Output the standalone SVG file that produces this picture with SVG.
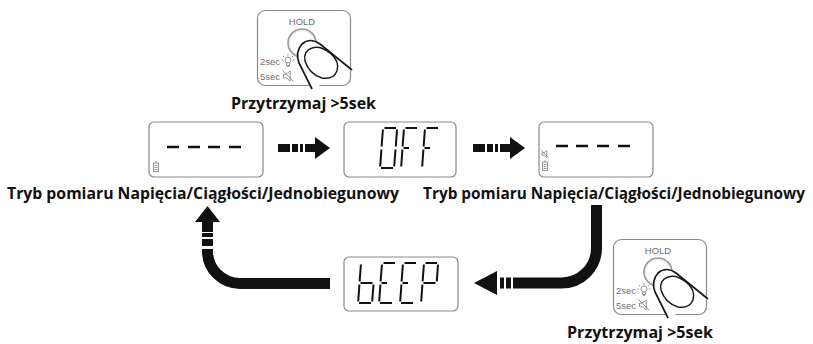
<svg xmlns="http://www.w3.org/2000/svg" width="813" height="344" viewBox="0 0 813 344">
  <defs>
    <style>
      .lcd { fill: #ffffff; stroke: #8a8a8a; stroke-width: 1.2; }
      .seg { fill: none; stroke: #111111; stroke-width: 2; stroke-linecap: butt; }
      .dash { stroke: #111111; stroke-width: 2.4; }
      .tiny { fill: none; stroke: #8a8a8a; stroke-width: 0.9; }
      .lbl { font-family: "Open Sans", "Liberation Sans", sans-serif; font-weight: bold; font-size: 16px; fill: #111111; }
      .cap { font-size: 15.4px; }
      .hold-frame { fill: #ffffff; stroke: #8a8a8a; stroke-width: 1.2; }
      .hold-txt { font-family: "Liberation Sans", Arial, sans-serif; font-size: 9.5px; fill: #6f6f6f; }
      .finger { fill: #ffffff; stroke: #1a1a1a; stroke-width: 1.7; }
      .conn { fill: none; stroke: #111111; stroke-width: 11; }
      .solid { fill: #111111; }
    </style>

    <!-- HOLD button with a finger pressing it -->
    <g id="holdIcon">
      <rect class="hold-frame" x="0.5" y="0.5" width="93" height="75" rx="8"/>
      <text class="hold-txt" x="45" y="15" text-anchor="middle">HOLD</text>
      <circle cx="45" cy="33" r="14" fill="#ffffff" stroke="#9a9a9a" stroke-width="1.6"/>
      <circle cx="45" cy="33" r="12.6" fill="none" stroke="#dddddd" stroke-width="0.8"/>
      <text class="hold-txt" x="3" y="55" font-size="9">2sec</text>
      <text class="hold-txt" x="3" y="70" font-size="9">5sec</text>
      <!-- bulb -->
      <g class="tiny" transform="translate(31,51)">
        <circle cx="0" cy="-1" r="3"/>
        <path d="M-1.5 1.8 V4.5 H1.5 V1.8 M-1.3 5.6 H1.3"/>
        <path d="M0 -7 V-5.3 M-5 -5 L-3.8 -3.8 M5 -5 L3.8 -3.8 M-6.5 -1 H-4.8 M6.5 -1 H4.8"/>
      </g>
      <!-- muted speaker -->
      <g class="tiny" transform="translate(31,66)">
        <path d="M-4.5 -1.8 H-1.8 L2.2 -5 V5 L-1.8 1.8 H-4.5 Z"/>
        <path d="M-5.5 -5.5 L5.5 5.5"/>
      </g>
      <path class="finger" d="M 95 60 L 63 34 Q 53 27 45 34 Q 38 42 42 53 L 55 79"/>
      <path fill="none" stroke="#1a1a1a" stroke-width="1.5" d="M 48 51 Q 46 41 55 38 Q 63 35 73 43 Q 83 51 80 61 Q 76 70 65 68 Q 52 64 48 51 Z"/>
    </g>

    <!-- LCD icons -->
    <g id="battery" class="tiny">
      <rect x="-2.5" y="-4" width="5" height="8.5"/>
      <path d="M-1 -5 H1 M-1.5 -1.5 H1.5 M-1.5 0.5 H1.5 M-1.5 2.5 H1.5"/>
    </g>
    <g id="mute" class="tiny">
      <path d="M-3 -1.2 H-1 L1.8 -3.5 V3.5 L-1 1.2 H-3 Z"/>
      <path d="M-3.6 -3.6 L3.6 3.6"/>
    </g>
  </defs>

  <!-- first HOLD node -->
  <g id="hold-top">
    <use href="#holdIcon" x="257" y="10"/>
    <text class="lbl" x="231" y="109" textLength="145" lengthAdjust="spacingAndGlyphs">Przytrzymaj &gt;5sek</text>
  </g>

  <!-- display: measuring mode -->
  <g id="lcd-mode-1">
    <rect class="lcd" x="149" y="122" width="114" height="55" rx="5"/>
    <path class="dash" d="M167 147 H179 M188 147 H200 M208 147 H220 M229 147 H241"/>
    <use href="#battery" x="156" y="167"/>
  </g>

  <!-- display: OFF -->
  <g id="lcd-off">
    <rect class="lcd" x="344" y="122" width="112" height="55" rx="5"/>
    <!-- O -->
    <g transform="translate(380,128)">
      <path class="seg" d="M4.5 0 H16 M17 1.5 L15.8 18.5 M15.5 21.5 L14.2 38.5 M1 40 H13 M1.4 21.5 L0.2 38.5 M2.9 1.5 L1.6 18.5"/>
    </g>
    <!-- F -->
    <g transform="translate(401,128)">
      <path class="seg" d="M4.5 0 H16 M1.4 21.5 L0.2 38.5 M2.9 1.5 L1.6 18.5 M2.5 20 H8"/>
    </g>
    <!-- F -->
    <g transform="translate(422,128)">
      <path class="seg" d="M4.5 0 H16 M1.4 21.5 L0.2 38.5 M2.9 1.5 L1.6 18.5 M2.5 20 H8"/>
    </g>
  </g>

  <!-- display: muted measuring mode -->
  <g id="lcd-mode-2">
    <rect class="lcd" x="539" y="122" width="114" height="55" rx="5"/>
    <path class="dash" d="M556 146 H568 M576 146 H588 M597 146 H609 M618 146 H630"/>
    <use href="#mute" x="545" y="154"/>
    <use href="#battery" x="545" y="166"/>
  </g>

  <!-- display: bEEP -->
  <g id="lcd-beep">
    <rect class="lcd" x="344" y="257" width="114" height="54" rx="5"/>
    <!-- b -->
    <g transform="translate(358,263)">
      <path class="seg" d="M15.5 21.5 L14.2 38.5 M1 40 H13 M1.4 21.5 L0.2 38.5 M2.9 1.5 L1.6 18.5 M2.5 20 H14.5"/>
    </g>
    <!-- E -->
    <g transform="translate(379,263)">
      <path class="seg" d="M4.5 0 H16 M1 40 H13 M1.4 21.5 L0.2 38.5 M2.9 1.5 L1.6 18.5 M2.5 20 H8"/>
    </g>
    <!-- E -->
    <g transform="translate(400,263)">
      <path class="seg" d="M4.5 0 H16 M1 40 H13 M1.4 21.5 L0.2 38.5 M2.9 1.5 L1.6 18.5 M2.5 20 H8"/>
    </g>
    <!-- P -->
    <g transform="translate(421,263)">
      <path class="seg" d="M4.5 0 H16 M17 1.5 L15.8 18.5 M1.4 21.5 L0.2 38.5 M2.9 1.5 L1.6 18.5 M2.5 20 H14.5"/>
    </g>
  </g>

  <!-- second HOLD node -->
  <g id="hold-bottom">
    <use href="#holdIcon" x="613" y="239"/>
    <text class="lbl" x="567" y="338" textLength="146" lengthAdjust="spacingAndGlyphs">Przytrzymaj &gt;5sek</text>
  </g>

  <!-- mode captions -->
  <g id="captions">
    <text class="lbl cap" x="7" y="199" textLength="392" lengthAdjust="spacingAndGlyphs">Tryb pomiaru Napięcia/Ciągłości/Jednobiegunowy</text>
    <text class="lbl cap" x="423" y="199" textLength="382" lengthAdjust="spacingAndGlyphs">Tryb pomiaru Napięcia/Ciągłości/Jednobiegunowy</text>
  </g>

  <!-- connectors -->
  <g id="connectors">
    <!-- mode -> OFF -->
    <g class="solid">
      <rect x="278" y="144" width="12" height="8"/>
      <rect x="292" y="144" width="6" height="8"/>
      <rect x="300" y="144" width="3" height="8"/>
      <rect x="305" y="144" width="12" height="8"/>
      <polygon points="315,137 330,148 315,159"/>
    </g>
    <!-- OFF -> muted mode -->
    <g class="solid">
      <rect x="473" y="144" width="12" height="8"/>
      <rect x="487" y="144" width="6" height="8"/>
      <rect x="495" y="144" width="3" height="8"/>
      <rect x="500" y="144" width="12" height="8"/>
      <polygon points="510,137 525,148 510,159"/>
    </g>
    <!-- muted mode -> bEEP -->
    <path class="conn" d="M 596.5 205 V 248 A 35 35 0 0 1 561.5 283 H 513"/>
    <g class="solid">
      <rect x="506" y="277.5" width="5" height="11"/>
      <rect x="500" y="277.5" width="4" height="11"/>
      <polygon points="497,271 474,283 497,295"/>
    </g>
    <!-- bEEP -> mode -->
    <path class="conn" d="M 330 283.5 H 240 A 32.5 32.5 0 0 1 207.5 251 V 249"/>
    <g class="solid">
      <rect x="202" y="239" width="11" height="7"/>
      <rect x="202" y="233" width="11" height="4"/>
      <rect x="202" y="221" width="11" height="11"/>
      <polygon points="195,222 207.5,206 220,222"/>
    </g>
  </g>
</svg>
